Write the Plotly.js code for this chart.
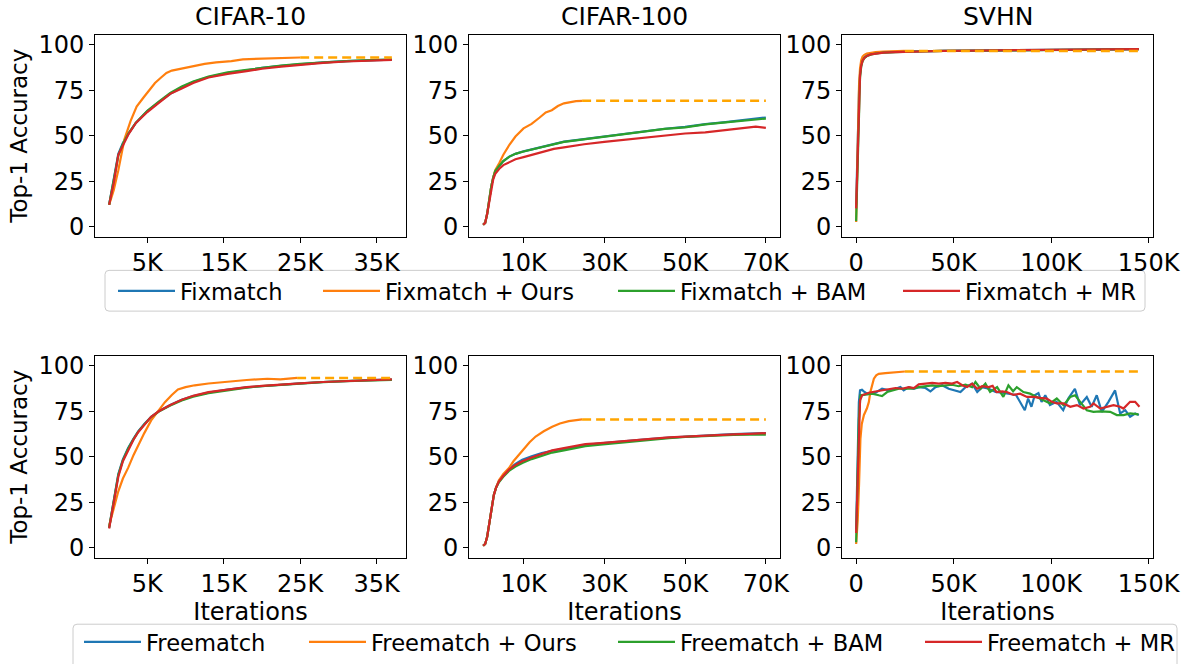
<!DOCTYPE html>
<html><head><meta charset="utf-8">
<script src="https://cdn.plot.ly/plotly-3.0.1.min.js"></script>
<style>html,body{margin:0;padding:0;background:#fff}</style>
</head><body><div id="chart" style="width:1182px;height:664px"></div>
<script>
// ---------------- DATA ----------------
const datasetTitles = ['CIFAR-10', 'CIFAR-100', 'SVHN'];
const rowMethods = ['Fixmatch', 'Freematch'];
const variantSuffix = ['', ' + Ours', ' + BAM', ' + MR'];
const yTickVals = [0, 25, 50, 75, 100];
const yTickText = ['0', '25', '50', '75', '100'];
const c10TickVals = [5000, 15000, 25000, 35000];
const c10TickText = ['5K', '15K', '25K', '35K'];
const c100TickVals = [10000, 30000, 50000, 70000];
const c100TickText = ['10K', '30K', '50K', '70K'];
const svhnTickVals = [0, 50000, 100000, 150000];
const svhnTickText = ['0', '50K', '100K', '150K'];

// Row 1 : Fixmatch, CIFAR-10
const fixC10_x = [0, 600, 1200, 1800, 2500, 3500, 5000, 6500, 8000, 9500, 11000, 13000, 15500, 18000, 20000, 22500, 25000, 28000, 31000, 34000, 37000];
const fixC10_base = [12, 26, 40, 46, 51, 57, 63.5, 68.5, 73, 76.5, 79.5, 82.3, 84.5, 86, 87.3, 88.4, 89.4, 90.3, 91, 91.5, 91.8];
const fixC10_bam = [12, 25, 39, 45.5, 51, 57.2, 63.7, 68.8, 73.5, 77, 79.8, 82.5, 84.8, 86.2, 87.4, 88.5, 89.5, 90.4, 91, 91.6, 91.9];
const fixC10_mr = [12, 24, 39.5, 45, 50.5, 57, 63, 68, 73, 76, 79, 82, 84, 85.5, 86.8, 88, 89, 90, 90.8, 91.4, 91.7];
const fixC10_ours_x = [0, 600, 1200, 2000, 2800, 3600, 4500, 5200, 6000, 6800, 7500, 8200, 9500, 11000, 12500, 14000, 16000, 17500, 20000, 22500, 25000];
const fixC10_ours = [12, 20, 31, 48, 58, 66, 71, 75, 79, 82, 84.5, 85.8, 87, 88.3, 89.5, 90.3, 91, 92, 92.4, 92.8, 93.0];
const fixC10_oursExt_x = [25000, 37000];
const fixC10_oursExt = [93.0, 93.0];

// Row 1 : Fixmatch, CIFAR-100
const fixC100_x = [0, 500, 1000, 1500, 2000, 2500, 3000, 4000, 5000, 6500, 8000, 10000, 12500, 15000, 17500, 20000, 22500, 25000, 30000, 35000, 40000, 45000, 50000, 55000, 60000, 65000, 67500, 70000];
const fixC100_base = [1, 2, 7, 15, 22, 27, 30.5, 33.5, 36, 38.5, 40, 41.4, 42.8, 44.1, 45.4, 46.7, 47.4, 48.1, 49.9, 51.3, 52.7, 53.8, 54.8, 56.4, 57.5, 58.6, 59.2, 60];
const fixC100_bam = [1, 2, 7, 15, 22, 27, 30.5, 33.5, 36, 38.5, 40, 41.3, 42.7, 44, 45.3, 46.6, 47.3, 48, 49.8, 51.2, 52.6, 53.7, 54.6, 56.2, 57.3, 58.4, 58.9, 59.4];
const fixC100_mr = [1, 2, 7, 14, 21, 26, 29, 31.8, 33.8, 35.6, 37, 38.2, 39.8, 41.3, 42.7, 43.6, 44.5, 45.3, 46.6, 47.8, 48.8, 49.9, 51.2, 51.8, 53, 54.6, 55, 54.3];
const fixC100_ours_x = [0, 500, 1000, 1500, 2000, 2500, 3000, 4000, 5000, 6500, 8000, 10000, 12000, 14000, 15500, 17000, 18500, 20000, 21500, 23000, 24500];
const fixC100_ours = [1, 2, 7, 15, 22, 27, 31, 35, 39.5, 45, 49.5, 54, 56.5, 60, 62.8, 64, 66.3, 67.8, 68.6, 69, 69.2];
const fixC100_oursExt_x = [24500, 70000];
const fixC100_oursExt = [69.2, 69.2];

// Row 1 : Fixmatch, SVHN
const fixSVHN_x = [0, 300, 700, 1100, 1500, 2000, 2600, 3300, 4200, 5500, 7500, 10000, 14000, 20000, 30000, 45000, 60000, 80000, 100000, 120000, 135000, 145000];
const fixSVHN_base = [12, 25, 45, 62, 75, 84, 89, 91.5, 93, 94, 94.8, 95.3, 95.8, 96.1, 96.4, 96.6, 96.8, 97, 97.2, 97.4, 97.5, 97.6];
const fixSVHN_bam = [3, 15, 38, 58, 72, 82, 88, 91, 92.7, 93.8, 94.6, 95.2, 95.7, 96, 96.3, 96.6, 96.8, 97, 97.2, 97.4, 97.5, 97.6];
const fixSVHN_mr = [10, 22, 42, 60, 74, 83, 88.5, 91.3, 92.8, 93.9, 94.7, 95.2, 95.7, 96, 96.4, 96.6, 96.8, 97, 97.2, 97.4, 97.5, 97.6];
const fixSVHN_ours_x = [0, 300, 700, 1100, 1500, 2000, 2600, 3300, 4200, 5500, 7500, 10000, 14000, 19000, 25000];
const fixSVHN_ours = [2.5, 18, 42, 63, 78, 87, 91.5, 93.5, 94.5, 95.2, 95.7, 96, 96.3, 96.5, 96.6];
const fixSVHN_oursExt_x = [25000, 145000];
const fixSVHN_oursExt = [96.6, 96.6];

// Row 2 : Freematch, CIFAR-10
const freeC10_x = [0, 600, 1200, 1800, 2500, 3200, 3800, 4600, 5500, 6500, 8000, 9500, 11000, 13000, 15500, 18000, 20000, 22500, 25000, 28000, 31000, 34000, 37000];
const freeC10_base = [11, 27, 40.5, 48.5, 55, 60, 64, 68, 72, 75, 78.5, 81.3, 83.4, 85.3, 87, 88.2, 88.9, 89.7, 90.4, 91.1, 91.7, 92.1, 92.4];
const freeC10_bam = [11, 26.5, 40, 48, 54.5, 59.7, 63.7, 67.8, 71.8, 74.8, 78.2, 81, 83, 85, 86.7, 88, 88.8, 89.6, 90.3, 91, 91.6, 92, 92.3];
const freeC10_mr = [10.5, 25, 39, 47.5, 54, 59.5, 63.5, 67.7, 72, 75, 78.5, 81.3, 83.5, 85.5, 87.1, 88.3, 89, 89.8, 90.4, 91.1, 91.7, 92.1, 92.5];
const freeC10_ours_x = [0, 600, 1200, 1800, 2500, 3200, 3800, 4600, 5500, 6500, 7300, 8200, 9000, 10000, 11200, 13000, 15500, 18000, 20700, 22400, 24600];
const freeC10_ours = [12, 22, 31, 38, 44, 51, 56.5, 63, 70, 75.5, 80, 84, 87, 88.3, 89.3, 90.3, 91.4, 92.2, 92.9, 92.6, 93.4];
const freeC10_oursExt_x = [24600, 37000];
const freeC10_oursExt = [93.3, 93.3];

// Row 2 : Freematch, CIFAR-100
const freeC100_x = [0, 500, 1000, 1400, 2000, 2650, 3200, 3900, 5000, 6400, 8000, 9700, 12000, 14500, 17100, 20000, 22500, 25300, 29000, 33600, 37500, 41800, 46000, 50100, 54000, 58300, 62000, 66000, 70000];
const freeC100_base = [1, 2, 6, 12, 21, 29, 33, 36.5, 40, 43.2, 46, 48.4, 50.3, 52, 53.3, 54.5, 55.4, 56.4, 57.3, 58.3, 59, 59.8, 60.5, 61.1, 61.5, 62, 62.4, 62.6, 63];
const freeC100_bam = [1, 2, 6, 12, 21, 29, 33, 36, 39, 42.2, 44.6, 46.6, 48.7, 50.5, 52.3, 53.5, 54.6, 55.8, 56.7, 57.7, 58.6, 59.4, 60.2, 60.9, 61.4, 61.8, 62, 62.1, 62.2];
const freeC100_mr = [1, 2, 6, 12, 21, 29, 33, 36.3, 39.5, 42.9, 45.5, 47.5, 49.6, 51.5, 53.5, 54.7, 55.7, 56.9, 57.5, 58.4, 59.1, 59.8, 60.6, 61.1, 61.6, 62, 62.3, 62.6, 63];
const freeC100_ours_x = [0, 500, 1000, 1400, 2000, 2650, 3200, 3900, 5000, 6400, 7500, 8800, 10000, 11500, 13000, 15000, 17100, 19000, 21200, 23000, 24500];
const freeC100_ours = [1, 2, 6, 12, 21, 29, 33, 37, 40.5, 43.8, 47.5, 51.1, 54.3, 58, 61.1, 64, 66.5, 68.3, 69.6, 70.2, 70.5];
const freeC100_oursExt_x = [24500, 70000];
const freeC100_oursExt = [70.5, 70.5];

// Row 2 : Freematch, SVHN (noisy)
const freeSVHN_base_x = [0, 700, 1400, 2000, 3000, 3900, 5600, 8200, 9900, 13300, 16800, 20200, 22700, 24400, 27000, 29600, 32100, 35600, 38100, 40700, 44100, 47500, 51000, 53500, 56100, 59500, 62100, 64600, 68000, 71500, 74900, 78000, 82000, 86500, 88200, 89900, 91600, 93500, 95100, 97000, 99400, 102800, 106200, 108800, 112200, 114800, 118300, 120800, 123400, 126000, 129400, 132800, 135400, 138000, 140500, 143100, 145000];
const freeSVHN_base = [10, 40, 80, 86.5, 86.8, 86, 84.7, 84.7, 85.2, 87.4, 86.5, 87.4, 88.3, 86.5, 88.3, 87.4, 88.3, 87.8, 85.9, 88.3, 89.3, 87.4, 86.5, 85.6, 88.3, 90.2, 85.6, 88.3, 87.4, 85.6, 85.2, 84.5, 84, 75.6, 82, 77.5, 83.8, 85, 80.2, 83.8, 78.4, 80.2, 75.6, 82, 87.4, 78.4, 82.9, 77.5, 83.8, 74.7, 80.2, 86.5, 73.8, 75.6, 72, 73.8, 72.9];
const freeSVHN_bam_x = [0, 700, 1400, 2200, 4800, 8200, 11600, 13300, 15900, 18500, 21900, 25300, 28700, 32100, 35600, 39000, 42400, 45800, 49200, 52600, 56100, 59500, 61200, 63800, 66300, 68700, 72300, 75500, 78100, 80500, 82400, 85800, 89200, 92600, 96100, 99500, 102900, 106300, 109800, 112300, 114900, 118300, 121700, 125200, 130300, 133700, 137100, 140500, 144800];
const freeSVHN_bam = [3, 30, 70, 83.8, 84.2, 84.7, 83.8, 83.4, 85.6, 86.5, 87.4, 87.4, 87.4, 88.3, 88.8, 89.3, 88.8, 89.3, 89.6, 88.8, 89.6, 88.3, 91.1, 87.4, 90.2, 85.6, 88.3, 82.9, 89.3, 86, 88.3, 85.6, 84.7, 82.9, 81.1, 79.3, 82, 78.4, 82.9, 83.8, 80.2, 75.6, 74.7, 75, 74.7, 72.9, 72.9, 73.8, 73.3];
const freeSVHN_mr_x = [0, 700, 1400, 2000, 3100, 6500, 9900, 13300, 16800, 20200, 23600, 27000, 29600, 32100, 35600, 39000, 42400, 45800, 49200, 51800, 54400, 56900, 59500, 62100, 64600, 68000, 70000, 72000, 74900, 77300, 80700, 84100, 87600, 91000, 94400, 97800, 100400, 102900, 106300, 109800, 113200, 116600, 120000, 121700, 125200, 128600, 132000, 135400, 137100, 140500, 143100, 145300];
const freeSVHN_mr = [8, 35, 72, 81, 83.8, 85.2, 85.9, 86.5, 87.4, 87.8, 87.4, 88.3, 87.8, 89.8, 90.2, 90.6, 90.2, 90.6, 90.2, 91.1, 89.3, 88.3, 90.2, 87.4, 88.8, 88.3, 89, 85.6, 86, 85.6, 84, 84.7, 82.9, 82.9, 82.4, 82, 80.2, 79.3, 79.3, 77.5, 78.4, 76.5, 77.5, 79.3, 76.5, 77.5, 78.4, 77.5, 76.5, 80.2, 80.2, 77.5];
const freeSVHN_ours_x = [0, 800, 1500, 2200, 2900, 4000, 5500, 6500, 7300, 8200, 9100, 10300, 11600, 15000, 20000, 25000];
const freeSVHN_ours = [2, 15, 35, 60, 68, 73, 76.5, 80, 85.6, 89.5, 92.9, 94.8, 95.6, 96, 96.5, 96.9];
const freeSVHN_oursExt_x = [25000, 145000];
const freeSVHN_oursExt = [96.9, 96.9];

// ---------------- STYLE / LAYOUT ----------------
const W = 1182, H = 664;
const FONT = 'DejaVu Sans, Liberation Sans, sans-serif';
const COLORS = ['#1f77b4', '#ff7f0e', '#2ca02c', '#d62728'];
const EXT_COLOR = '#ffa500';
const colPx = [[95, 406], [469, 780], [842, 1153]];
const rowPx = [[35, 238], [358, 561]];
const xRanges = [[-1850, 38850], [-3500, 73500], [-7250, 152250]];
const xTicks = [[c10TickVals, c10TickText], [c100TickVals, c100TickText], [svhnTickVals, svhnTickText]];
const TICK_SIZE = 24, LEG_SIZE = 22.6, LEG_ITEMW = 57;

const panels = [
  [[fixC10_x, fixC10_base], [fixC10_ours_x, fixC10_ours], [fixC10_x, fixC10_bam], [fixC10_x, fixC10_mr], [fixC10_oursExt_x, fixC10_oursExt]],
  [[fixC100_x, fixC100_base], [fixC100_ours_x, fixC100_ours], [fixC100_x, fixC100_bam], [fixC100_x, fixC100_mr], [fixC100_oursExt_x, fixC100_oursExt]],
  [[fixSVHN_x, fixSVHN_base], [fixSVHN_ours_x, fixSVHN_ours], [fixSVHN_x, fixSVHN_bam], [fixSVHN_x, fixSVHN_mr], [fixSVHN_oursExt_x, fixSVHN_oursExt]],
  [[freeC10_x, freeC10_base], [freeC10_ours_x, freeC10_ours], [freeC10_x, freeC10_bam], [freeC10_x, freeC10_mr], [freeC10_oursExt_x, freeC10_oursExt]],
  [[freeC100_x, freeC100_base], [freeC100_ours_x, freeC100_ours], [freeC100_x, freeC100_bam], [freeC100_x, freeC100_mr], [freeC100_oursExt_x, freeC100_oursExt]],
  [[freeSVHN_base_x, freeSVHN_base], [freeSVHN_ours_x, freeSVHN_ours], [freeSVHN_bam_x, freeSVHN_bam], [freeSVHN_mr_x, freeSVHN_mr], [freeSVHN_oursExt_x, freeSVHN_oursExt]]
];

// legend text start (px) and vertical centre per row
const legendTextX = [[180, 385, 680, 965], [146, 371, 680, 987]];
const legendYc = [293, 646];

const traces = [];
const layout = {
  width: W, height: H,
  margin: {l: 0, r: 0, t: 0, b: 0},
  paper_bgcolor: '#fff', plot_bgcolor: '#fff',
  font: {family: FONT, size: 22, color: '#000'},
  showlegend: true,
  annotations: [], shapes: []
};

for (let p = 0; p < 6; p++) {
  const row = Math.floor(p / 3), col = p % 3;
  const ax = p === 0 ? '' : String(p + 1);
  const xa = 'xaxis' + ax, ya = 'yaxis' + ax;
  layout[xa] = {
    domain: [colPx[col][0] / W, colPx[col][1] / W],
    anchor: 'y' + ax, range: xRanges[col],
    tickvals: xTicks[col][0], ticktext: xTicks[col][1],
    showline: true, mirror: true, linecolor: '#000', linewidth: 1,
    ticks: 'outside', ticklen: 5, tickwidth: 1, tickcolor: '#000',
    showgrid: false, zeroline: false,
    tickfont: {family: FONT, size: TICK_SIZE, color: '#000'}
  };
  layout[ya] = {
    domain: [1 - rowPx[row][1] / H, 1 - rowPx[row][0] / H],
    anchor: 'x' + ax, range: [-5.5, 105.5],
    tickvals: yTickVals, ticktext: yTickText,
    showline: true, mirror: true, linecolor: '#000', linewidth: 1,
    ticks: 'outside', ticklen: 5, tickwidth: 1, tickcolor: '#000',
    showgrid: false, zeroline: false,
    tickfont: {family: FONT, size: TICK_SIZE, color: '#000'}
  };
  if (col === 0) layout[ya].title = {text: 'Top-1 Accuracy', font: {family: FONT, size: 23, color: '#000'}, standoff: 4};
  if (row === 1) layout[xa].title = {text: 'Iterations', font: {family: FONT, size: 24, color: '#000'}, standoff: 5};
  if (row === 0) {
    layout.annotations.push({
      text: datasetTitles[col], xref: 'paper', yref: 'paper',
      x: (colPx[col][0] + colPx[col][1]) / 2 / W, y: 1 - 17 / H,
      xanchor: 'center', yanchor: 'middle', showarrow: false,
      font: {family: FONT, size: 25, color: '#000'}
    });
  }
  panels[p].forEach((s, k) => {
    const isExt = k === 4;
    const t = {
      type: 'scatter', mode: 'lines', x: s[0], y: s[1],
      xaxis: 'x' + ax, yaxis: 'y' + ax,
      line: isExt ? {color: EXT_COLOR, width: 2.5, dash: '9px,5px'} : {color: COLORS[k], width: 2.2},
      showlegend: false, hoverinfo: 'skip'
    };
    if (!isExt && col === 0) {
      t.showlegend = true;
      t.name = rowMethods[row] + variantSuffix[k];
      const lid = 'legend' + (row * 4 + k === 0 ? '' : String(row * 4 + k + 1));
      t.legend = lid;
      layout[lid] = {
        x: (legendTextX[row][k] - LEG_ITEMW - 10) / W, xanchor: 'left',
        y: 1 - legendYc[row] / H, yanchor: 'middle',
        orientation: 'h', bgcolor: 'rgba(0,0,0,0)', borderwidth: 0,
        itemwidth: LEG_ITEMW,
        font: {family: FONT, size: LEG_SIZE, color: '#000'}
      };
    }
    traces.push(t);
  });
}

// legend frames (rounded boxes)
function roundedBox(x0, y0, x1, y1, r) {
  const X = v => v / W, Y = v => 1 - v / H;
  const rx = r / W, ry = r / H;
  return `M${X(x0) + rx},${Y(y0)} L${X(x1) - rx},${Y(y0)} Q${X(x1)},${Y(y0)} ${X(x1)},${Y(y0) - ry} ` +
         `L${X(x1)},${Y(y1) + ry} Q${X(x1)},${Y(y1)} ${X(x1) - rx},${Y(y1)} L${X(x0) + rx},${Y(y1)} ` +
         `Q${X(x0)},${Y(y1)} ${X(x0)},${Y(y1) + ry} L${X(x0)},${Y(y0) - ry} Q${X(x0)},${Y(y0)} ${X(x0) + rx},${Y(y0)} Z`;
}
layout.shapes.push({type: 'path', xref: 'paper', yref: 'paper', path: roundedBox(105, 272, 1145, 313, 4), line: {color: '#cccccc', width: 1}, fillcolor: '#fff', layer: 'below'});
layout.shapes.push({type: 'path', xref: 'paper', yref: 'paper', path: roundedBox(73, 628, 1177, 672, 4), line: {color: '#cccccc', width: 1}, fillcolor: '#fff', layer: 'below'});

Plotly.newPlot('chart', traces, layout, {displayModeBar: false, staticPlot: true});
</script></body></html>
